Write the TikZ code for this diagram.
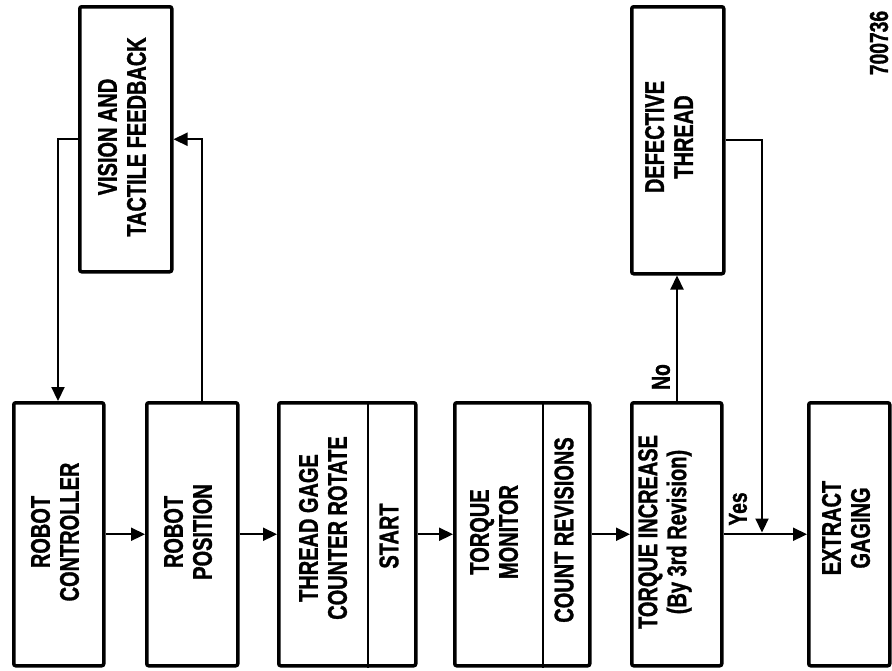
\documentclass[tikz,border=0pt]{standalone}
\usepackage{fontspec}
\newfontfamily\lbl[FakeStretch=0.74,FakeBold=1.2]{Liberation Sans Bold}
\usetikzlibrary{arrows.meta}
\begin{document}
\begin{tikzpicture}[x=1pt,y=-1pt,
  box/.style={draw, line width=3.5pt, rounded corners=2pt, inner sep=0pt, anchor=north west},
  txt/.style={rotate=90, align=center, font=\lbl\fontsize{27}{29}\selectfont, inner sep=0pt},
  small/.style={rotate=90, font=\lbl\fontsize{26}{28}\selectfont, inner sep=0pt},
  conn/.style={line width=2.2pt},
  arr/.style={conn, -{Triangle[length=14pt,width=13pt]}}]
\useasboundingbox (0,0) rectangle (892,670);
% boxes
\node[box, minimum width=90pt, minimum height=263pt] (rc) at (12,401) {};
\node[box, minimum width=91pt, minimum height=263pt] (rp) at (145,401) {};
\node[box, minimum width=137pt, minimum height=263pt] (tg) at (277,401) {};
\node[box, minimum width=135pt, minimum height=263pt] (tm) at (453,401) {};
\node[box, minimum width=90pt, minimum height=263pt] (ti) at (630,401) {};
\node[box, minimum width=81pt, minimum height=263pt] (eg) at (807,401) {};
\node[box, minimum width=92pt, minimum height=265pt] (vt) at (78,5) {};
\node[box, minimum width=92pt, minimum height=267pt] (dt) at (630,5) {};
% dividers
\draw[line width=2pt] ([xshift=91pt]tg.north west) -- ([xshift=91pt]tg.south west);
\draw[line width=2pt] ([xshift=90pt]tm.north west) -- ([xshift=90pt]tm.south west);
% texts
\node[txt] (trc) at (55,532) {ROBOT\\CONTROLLER};
\node[txt] (trp) at (188,532) {ROBOT\\POSITION};
\node[txt] (ttg) at (323,528) {THREAD GAGE\\COUNTER ROTATE};
\node[txt] (tst) at (389,536) {START};
\node[txt] (ttm) at (494,532) {TORQUE\\MONITOR};
\node[txt] (tcr) at (564,530) {COUNT REVISIONS};
\node[txt] (tti) at (665,532) {TORQUE INCREASE\\(By 3rd Revision)};
\node[txt] (teg) at (846,528) {EXTRACT\\GAGING};
\node[txt] (tvt) at (122,137) {VISION AND\\TACTILE FEEDBACK};
\node[txt] (tdt) at (669,137) {DEFECTIVE\\THREAD};
\node[small] (no) at (661,377) {No};
\node[small] (yes) at (738,509) {Yes};
\node[small] (num) at (879,43) {700736};
% connectors
\draw[arr] (rc) -- (rp);
\draw[arr] (rp) -- (tg);
\draw[arr] (tg) -- (tm);
\draw[arr] (tm) -- (ti);
\draw[arr] (ti) -- (eg);
\draw[arr] (vt.west) -| ([xshift=46pt]rc.north west);
\draw[arr] ([xshift=57pt]rp.north west) |- (vt.east);
\draw[arr] ([xshift=47pt]ti.north west) -- ([xshift=47pt]dt.south west);
\coordinate (j) at (762,532.5);
\draw[arr] (dt.east) -| (j);
\end{tikzpicture}
\end{document}
